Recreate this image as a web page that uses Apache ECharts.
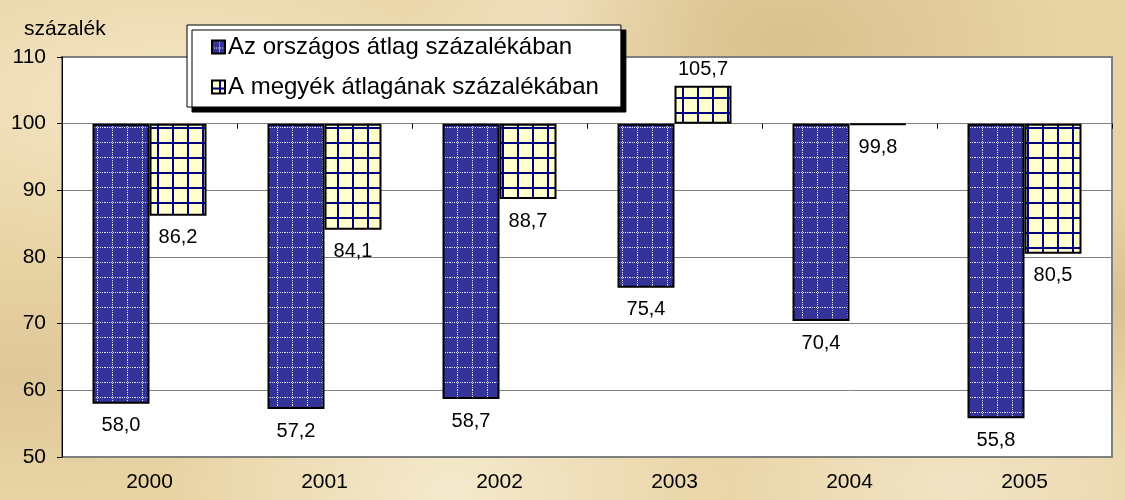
<!DOCTYPE html>
<html>
<head>
<meta charset="utf-8">
<script src="https://cdn.jsdelivr.net/npm/echarts@6/dist/echarts.min.js"></script>
<style>
  html, body { margin: 0; padding: 0; }
  body {
    width: 1125px; height: 500px;
    background-color: #e8d3a4;
    background-image:
      radial-gradient(ellipse at 15% 20%, rgba(246,234,204,0.85) 0, rgba(246,234,204,0) 30%),
      radial-gradient(ellipse at 70% 8%, rgba(212,186,134,0.7) 0, rgba(212,186,134,0) 25%),
      radial-gradient(ellipse at 40% 98%, rgba(247,238,212,0.85) 0, rgba(247,238,212,0) 30%),
      radial-gradient(ellipse at 97% 60%, rgba(214,190,142,0.8) 0, rgba(214,190,142,0) 25%),
      radial-gradient(ellipse at 2% 75%, rgba(220,196,150,0.8) 0, rgba(220,196,150,0) 22%),
      radial-gradient(ellipse at 85% 97%, rgba(244,232,204,0.8) 0, rgba(244,232,204,0) 20%),
      radial-gradient(ellipse at 50% 3%, rgba(244,230,200,0.8) 0, rgba(244,230,200,0) 20%);
  }
  #plot { width: 1125px; height: 500px; }
</style>
</head>
<body>
<div id="plot"></div>
<script>
// adatok
var years = ['2000', '2001', '2002', '2003', '2004', '2005'];
var orszagos = [58.0, 57.2, 58.7, 75.4, 70.4, 55.8];
var megyek = [86.2, 84.1, 88.7, 105.7, 99.8, 80.5];
var seriesNames = ['Az országos átlag százalékában', 'A megyék átlagának százalékában'];
var baseLine = 100; // az x tengely a 100-nál metszi az y tengelyt

var font = "'Liberation Sans', Arial, sans-serif";

// mintázatok (Excel-szerű kitöltés)
function dotPattern() {
  var c = document.createElement('canvas');
  c.width = 15; c.height = 15;
  var ctx = c.getContext('2d');
  ctx.fillStyle = '#333399';
  ctx.fillRect(0, 0, 15, 15);
  ctx.fillStyle = '#e4e4f8';
  for (var i = 0; i < 15; i += 2) {
    ctx.fillRect(7, i, 1, 1);
    ctx.fillRect(i, 7, 1, 1);
  }
  return c;
}
function gridPattern() {
  var c = document.createElement('canvas');
  c.width = 15; c.height = 15;
  var ctx = c.getContext('2d');
  ctx.fillStyle = '#ffffcc';
  ctx.fillRect(0, 0, 15, 15);
  ctx.fillStyle = '#000080';
  ctx.fillRect(7, 0, 2, 15);
  ctx.fillRect(0, 7, 15, 2);
  return c;
}

function fmt(v) {
  return v.toFixed(1).replace('.', ',');
}

function toData(values) {
  return values.map(function (v) {
    return {
      value: v - baseLine,
      label: { position: v < baseLine ? 'bottom' : 'top', distance: v < baseLine ? 12 : 6 }
    };
  });
}

var myChart = echarts.init(document.getElementById('plot'));

var labelStyle = {
  show: true,
  color: '#000',
  fontFamily: font,
  fontSize: 20
};

var option = {
  animation: false,
  title: {
    text: 'százalék',
    left: 24,
    top: 19,
    padding: 0,
    textStyle: { fontFamily: font, fontSize: 21, fontWeight: 'normal', color: '#000' }
  },
  legend: {
    data: seriesNames,
    orient: 'vertical',
    left: 187,
    top: 25,
    icon: 'rect',
    itemWidth: 13,
    itemHeight: 13,
    itemGap: 16,
    padding: [10, 22, 8, 24],
    backgroundColor: '#fff',
    borderColor: '#000',
    borderWidth: 1,
    shadowColor: '#000',
    shadowBlur: 0,
    shadowOffsetX: 5,
    shadowOffsetY: 5,
    textStyle: { fontFamily: font, fontSize: 24, color: '#000', padding: [0, 0, 0, -2] }
  },
  grid: {
    left: 62,
    right: 13,
    top: 57,
    bottom: 43,
    show: true,
    backgroundColor: '#fff',
    borderColor: '#808080',
    borderWidth: 2
  },
  xAxis: [{
    type: 'category',
    data: years,
    position: 'bottom',
    axisLine: { show: false, onZero: false },
    axisTick: { show: false },
    axisLabel: { color: '#000', fontFamily: font, fontSize: 21, margin: 15 }
  }, {
    type: 'category',
    data: years,
    position: 'bottom',
    axisLine: { show: true, onZero: true, lineStyle: { color: '#808080', width: 1 } },
    axisTick: { show: true, length: 5, lineStyle: { color: '#000' } },
    axisLabel: { show: false }
  }],
  yAxis: {
    type: 'value',
    min: -50,
    max: 10,
    interval: 10,
    axisLine: { show: true, lineStyle: { color: '#000', width: 1 } },
    axisTick: { show: true, length: 5, lineStyle: { color: '#000' } },
    axisLabel: {
      color: '#000', fontFamily: font, fontSize: 21, margin: 16,
      formatter: function (v) { return v + baseLine; }
    },
    splitLine: { show: true, lineStyle: { color: '#808080', width: 1 } }
  },
  series: [{
    name: seriesNames[0],
    type: 'bar',
    xAxisIndex: 0,
    barWidth: 57,
    barGap: '0%',
    data: toData(orszagos),
    itemStyle: { color: { image: dotPattern(), repeat: 'repeat' }, borderColor: '#000', borderWidth: 2 },
    label: Object.assign({}, labelStyle, {
      formatter: function (p) { return fmt(orszagos[p.dataIndex]); }
    })
  }, {
    name: seriesNames[1],
    type: 'bar',
    xAxisIndex: 0,
    barWidth: 57,
    barGap: '0%',
    data: toData(megyek),
    itemStyle: { color: { image: gridPattern(), repeat: 'repeat' }, borderColor: '#000', borderWidth: 2 },
    label: Object.assign({}, labelStyle, {
      formatter: function (p) { return fmt(megyek[p.dataIndex]); }
    })
  }]
};

myChart.setOption(option);
</script>
</body>
</html>
